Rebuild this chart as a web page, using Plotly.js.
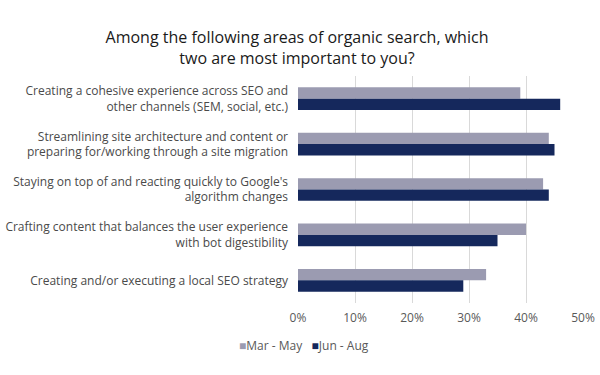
<!DOCTYPE html>
<html><head><meta charset="utf-8">
<script src="https://cdn.plot.ly/plotly-3.0.1.min.js"></script>
<style>body{margin:0;background:#fff}#c{width:600px;height:375px}</style>
</head><body><div id="c"></div>
<script>
const categories = [
  "Creating a cohesive experience across SEO and<br>other channels (SEM, social, etc.)",
  "Streamlining site architecture and content or<br>preparing for/working through a site migration",
  "Staying on top of and reacting quickly to Google's<br>algorithm changes",
  "Crafting content that balances the user experience<br>with bot digestibility",
  "Creating and/or executing a local SEO strategy"
];
const seriesNames = ["Mar - May", "Jun - Aug"];
const marMay = [0.39, 0.44, 0.43, 0.40, 0.33];
const junAug = [0.46, 0.45, 0.44, 0.35, 0.29];
const tickVals = [0, 0.1, 0.2, 0.3, 0.4, 0.5];
const tickText = ["0%", "10%", "20%", "30%", "40%", "50%"];
const colors = ['#9b9bb1', '#15285c'];

const font = "'Open Sans', sans-serif";
const data = [
  {type:'bar', orientation:'h', name:seriesNames[0], y:categories, x:marMay, marker:{color:colors[0]}},
  {type:'bar', orientation:'h', name:seriesNames[1], y:categories, x:junAug, marker:{color:colors[1]}}
];
const legendText = seriesNames.map((n,i)=>`<span style="color:${colors[i]};font-size:12px">■</span>${n}`).join('   ');
const layout = {
  width:600, height:375,
  margin:{l:298, r:17, t:76, b:72},
  paper_bgcolor:'#fff', plot_bgcolor:'#fff',
  font:{family:font, color:'#4a4a4a', size:11},
  title:{text:'Among the following areas of organic search, which<br>two are most important to you?',
    x:297/600, xanchor:'center', xref:'container', y:1-43/375, yref:'container', yanchor:'middle',
    font:{family:font, size:16, color:'#1a1a1a'}},
  barmode:'group', bargap:0.5, bargroupgap:0,
  xaxis:{range:[0,0.5], tickvals:tickVals, ticktext:tickText, showgrid:true, gridcolor:'#d9d9d9',
    zeroline:false, showline:false, ticks:'', tickfont:{size:12, color:'#595959'}, ticklabelstandoff:6, fixedrange:true},
  yaxis:{autorange:'reversed', showgrid:false, zeroline:false, showline:false, ticks:'',
    tickfont:{size:12, color:'#4a4a4a'}, ticklabelstandoff:9},
  showlegend:false,
  annotations:[{text:legendText, xref:'paper', yref:'paper', x:(237-298)/285, y:-(345-303)/227,
    xanchor:'left', yanchor:'middle', showarrow:false, font:{family:font, size:12, color:'#595959'}}]
};
Plotly.newPlot('c', data, layout, {displayModeBar:false, staticPlot:true});
</script></body></html>
